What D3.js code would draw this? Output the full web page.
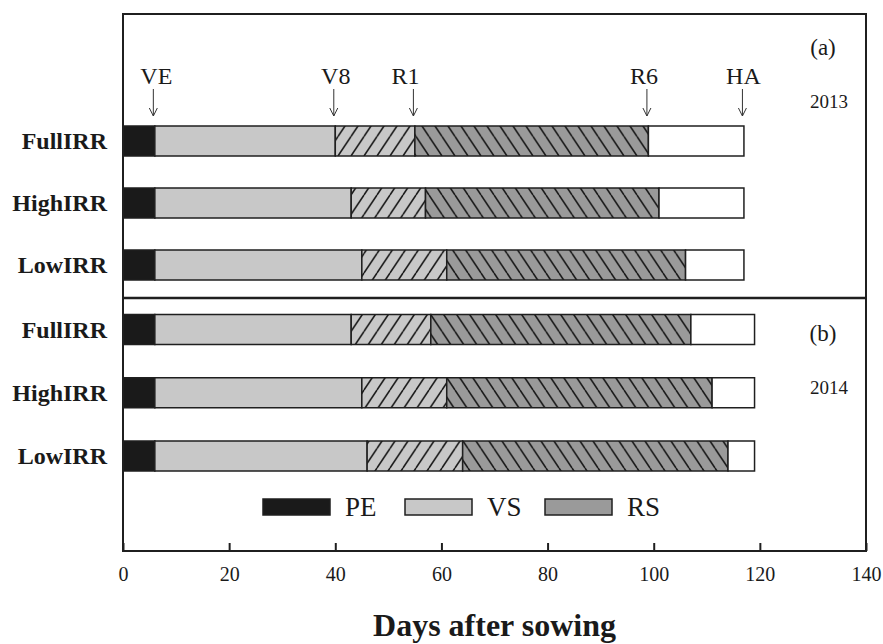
<!DOCTYPE html>
<html>
<head>
<meta charset="utf-8">
<script src="https://cdn.jsdelivr.net/npm/d3@7"></script>
<style>
  body { margin: 0; background: #fff; }
  svg { display: block; }
  text { font-family: "Liberation Serif", "Times New Roman", serif; fill: #1a1a1a; }
</style>
</head>
<body>
<svg id="chart" width="883" height="644"></svg>
<script>
// ---------------- data ----------------
const categories = ["FullIRR", "HighIRR", "LowIRR"];
const years = ["2013", "2014"];
const panelTags = ["(a)", "(b)"];

// end day of each stage (2013)
const peEnd2013 = [6, 6, 6];
const v8End2013 = [40, 43, 45];
const r1End2013 = [55, 57, 61];
const r6End2013 = [99, 101, 106];
const haEnd2013 = [117, 117, 117];

// end day of each stage (2014)
const peEnd2014 = [6, 6, 6];
const v8End2014 = [43, 45, 46];
const r1End2014 = [58, 61, 64];
const r6End2014 = [107, 111, 114];
const haEnd2014 = [119, 119, 119];

const stageMarkers = ["VE", "V8", "R1", "R6", "HA"];
const stageMarkerDays = [6, 40, 55, 99, 117];

const xTicks = [0, 20, 40, 60, 80, 100, 120, 140];
const legendLabels = ["PE", "VS", "RS"];
const xTitle = "Days after sowing";

// ---------------- layout ----------------
const svg = d3.select("#chart");
const L = 123, R = 866, T = 14, B = 551, DIV = 298;
const x = d3.scaleLinear().domain([0, 140]).range([L, R]);
const yA = d3.scalePoint().domain(categories).range([141, 265]);
const yB = d3.scalePoint().domain(categories).range([329.5, 456]);
const barH = 30;

const C_PE = "#1a1a1a", C_VS = "#c8c8c8", C_RS = "#9a9a9a", C_LINE = "#1f1f1f";

// patterns (steep diagonal hatching)
const defs = svg.append("defs");
function hatch(id, fill, forward) {
  const w = 13, h = 19.5;
  const p = defs.append("pattern").attr("id", id)
    .attr("patternUnits", "userSpaceOnUse").attr("width", w).attr("height", h);
  p.append("rect").attr("width", w).attr("height", h).attr("fill", fill);
  const d = forward
    ? `M-${w},${h} L0,0 M0,${h} L${w},0 M${w},${h} L${2 * w},0`
    : `M-${w},0 L0,${h} M0,0 L${w},${h} M${w},0 L${2 * w},${h}`;
  p.append("path").attr("d", d).attr("stroke", "#1a1a1a").attr("stroke-width", 1.6);
}
hatch("hVS", C_VS, true);
hatch("hRS", C_RS, false);

// panels
const panels = [
  { y: yA, pe: peEnd2013, v8: v8End2013, r1: r1End2013, r6: r6End2013, ha: haEnd2013 },
  { y: yB, pe: peEnd2014, v8: v8End2014, r1: r1End2014, r6: r6End2014, ha: haEnd2014 }
];

panels.forEach((pn, pi) => {
  categories.forEach((c, i) => {
    const segs = [
      { a: 0, b: pn.pe[i], fill: C_PE },
      { a: pn.pe[i], b: pn.v8[i], fill: C_VS },
      { a: pn.v8[i], b: pn.r1[i], fill: "url(#hVS)" },
      { a: pn.r1[i], b: pn.r6[i], fill: "url(#hRS)" },
      { a: pn.r6[i], b: pn.ha[i], fill: "#ffffff" }
    ];
    const g = svg.append("g");
    g.selectAll("rect").data(segs).join("rect")
      .attr("x", d => x(d.a))
      .attr("width", d => x(d.b) - x(d.a))
      .attr("y", pn.y(c) - barH / 2)
      .attr("height", barH)
      .attr("fill", d => d.fill)
      .attr("stroke", C_LINE)
      .attr("stroke-width", 1.5);
    svg.append("text")
      .attr("x", 107).attr("y", pn.y(c))
      .attr("dy", "0.35em")
      .attr("text-anchor", "end")
      .attr("font-weight", "bold")
      .attr("font-size", 24)
      .text(c);
  });
  const yTag = pi === 0 ? 55 : 341;
  svg.append("text").attr("x", 823).attr("y", yTag).attr("text-anchor", "middle")
    .attr("font-size", 23).text(panelTags[pi]);
  svg.append("text").attr("x", 829).attr("y", yTag + 53).attr("text-anchor", "middle")
    .attr("font-size", 19).text(years[pi]);
});

// stage markers with arrows
const markerDx = [3, 2, -8, -3, 1];
stageMarkers.forEach((m, i) => {
  const xm = x(stageMarkerDays[i]) - 1.5;
  svg.append("text").attr("x", xm + markerDx[i]).attr("y", 84)
    .attr("text-anchor", "middle").attr("font-size", 24).text(m);
  svg.append("line").attr("x1", xm).attr("x2", xm).attr("y1", 89).attr("y2", 116)
    .attr("stroke", "#333").attr("stroke-width", 1);
  svg.append("path").attr("d", `M${xm - 4},108 L${xm},116 L${xm + 4},108`)
    .attr("fill", "none").attr("stroke", "#333").attr("stroke-width", 1);
});

// x axis
const axis = d3.axisBottom(x).tickValues(xTicks).tickSizeInner(-8).tickSizeOuter(0).tickPadding(16);
const ag = svg.append("g").attr("transform", `translate(0,${B})`).call(axis);
ag.select(".domain").remove();
ag.selectAll(".tick line").attr("stroke", C_LINE).attr("stroke-width", 2);
ag.selectAll(".tick text").attr("font-size", 20).attr("fill", "#1a1a1a")
  .attr("font-family", "Liberation Serif, serif");

// frame and divider
svg.append("rect").attr("x", L).attr("y", T).attr("width", R - L).attr("height", B - T)
  .attr("fill", "none").attr("stroke", C_LINE).attr("stroke-width", 2);
svg.append("line").attr("x1", L).attr("x2", R).attr("y1", DIV).attr("y2", DIV)
  .attr("stroke", C_LINE).attr("stroke-width", 2.5);

// legend
const legFills = [C_PE, C_VS, C_RS];
const legX = [263, 405, 545];
legendLabels.forEach((l, i) => {
  svg.append("rect").attr("x", legX[i]).attr("y", 499).attr("width", 67).attr("height", 16)
    .attr("fill", legFills[i]).attr("stroke", C_LINE).attr("stroke-width", 1.5);
  svg.append("text").attr("x", legX[i] + 82).attr("y", 516).attr("font-size", 27).text(l);
});

// axis title
svg.append("text").attr("x", (L + R) / 2).attr("y", 636).attr("text-anchor", "middle")
  .attr("font-weight", "bold").attr("font-size", 32).text(xTitle);
</script>
</body>
</html>
